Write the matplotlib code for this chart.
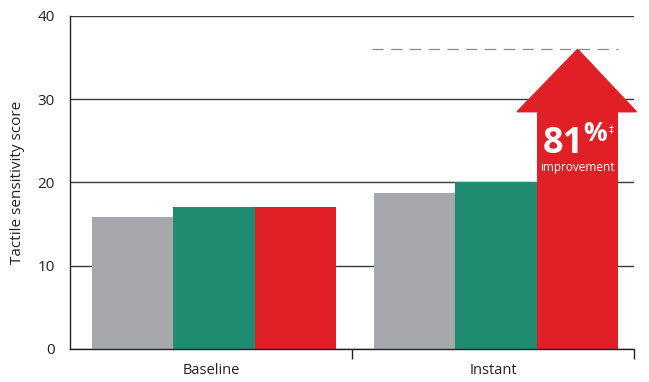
import numpy as np
import matplotlib
matplotlib.use('Agg')
import matplotlib.pyplot as plt
from matplotlib.patches import Polygon

# tactile sensitivity scores per time point
categories = ['Baseline', 'Instant']
grey_vals = [15.9, 18.7]
green_vals = [17.0, 20.1]
red_vals = [17.0, 36.0]
arrow_base = 28.5          # where the arrow head starts on the instant red bar
improvement_pct = 81

GREY = '#A7A8AB'
GREEN = '#1F8C71'
RED = '#E11F26'

plt.rcParams['font.family'] = ['Open Sans', 'DejaVu Sans']


def main():
    fig = plt.figure(figsize=(6.49, 3.82), dpi=100)
    ax = fig.add_axes([70/649, 33/382, 564/649, 333/382])

    centers = np.arange(len(categories)) + 0.5
    w = 0.289
    offs = [-0.278, 0.011, 0.300]

    ax.bar(centers + offs[0], grey_vals, w, color=GREY, zorder=2)
    ax.bar(centers + offs[1], green_vals, w, color=GREEN, zorder=2)
    # baseline red is a plain bar, instant red becomes an arrow
    ax.bar(centers[0] + offs[2], red_vals[0], w, color=RED, zorder=2)
    xr = centers[1] + offs[2]
    ax.bar(xr, arrow_base, w, color=RED, zorder=2)
    head = Polygon([[xr - w/2 - 0.07, arrow_base], [xr + w/2 + 0.064, arrow_base],
                    [xr, red_vals[1]]], closed=True, color=RED, zorder=3, clip_on=False)
    ax.add_patch(head)

    # dashed reference line at the arrow tip
    ax.plot([1.071, xr + w/2], [red_vals[1], red_vals[1]], color='#8a8a8a', lw=0.9,
            dashes=(9, 6), zorder=1)

    ax.text(xr + 0.021, 23.6, f'{improvement_pct}', color='white', fontsize=26,
            fontweight='bold', ha='right', va='baseline', zorder=4)
    ax.text(xr + 0.019, 25.0, '%', color='white', fontsize=19,
            fontweight='bold', ha='left', va='baseline', zorder=4)
    ax.text(xr + 0.112, 26.0, '\u2021', color='white', fontsize=7,
            ha='left', va='baseline', zorder=4, family='DejaVu Sans')
    ax.text(xr, 21.4, 'improvement', color='white', fontsize=8.5,
            ha='center', va='baseline', zorder=4)

    ax.set_xlim(0, 2)
    ax.set_ylim(0, 40)
    ax.set_yticks([0, 10, 20, 30, 40])
    ax.yaxis.grid(True, color='#3a3a3a', lw=1)
    ax.set_axisbelow(True)
    ax.tick_params(axis='y', length=0, pad=11, labelsize=11, labelcolor='#222222')

    ax.set_xticks(centers)
    ax.set_xticklabels(categories)
    ax.set_xticks([1, 2], minor=True)
    ax.tick_params(axis='x', which='major', length=0, pad=10, labelsize=10.5,
                   labelcolor='#222222')
    ax.tick_params(axis='x', which='minor', length=7, width=1, color='#222222')

    for s in ['top', 'right']:
        ax.spines[s].set_visible(False)
    for s in ['left', 'bottom']:
        ax.spines[s].set_color('#222222')
        ax.spines[s].set_linewidth(1)

    ax.set_ylabel('Tactile sensitivity score', fontsize=11, color='#222222', labelpad=9)

    fig.savefig('out.png', dpi=100)


if __name__ == '__main__':
    main()
